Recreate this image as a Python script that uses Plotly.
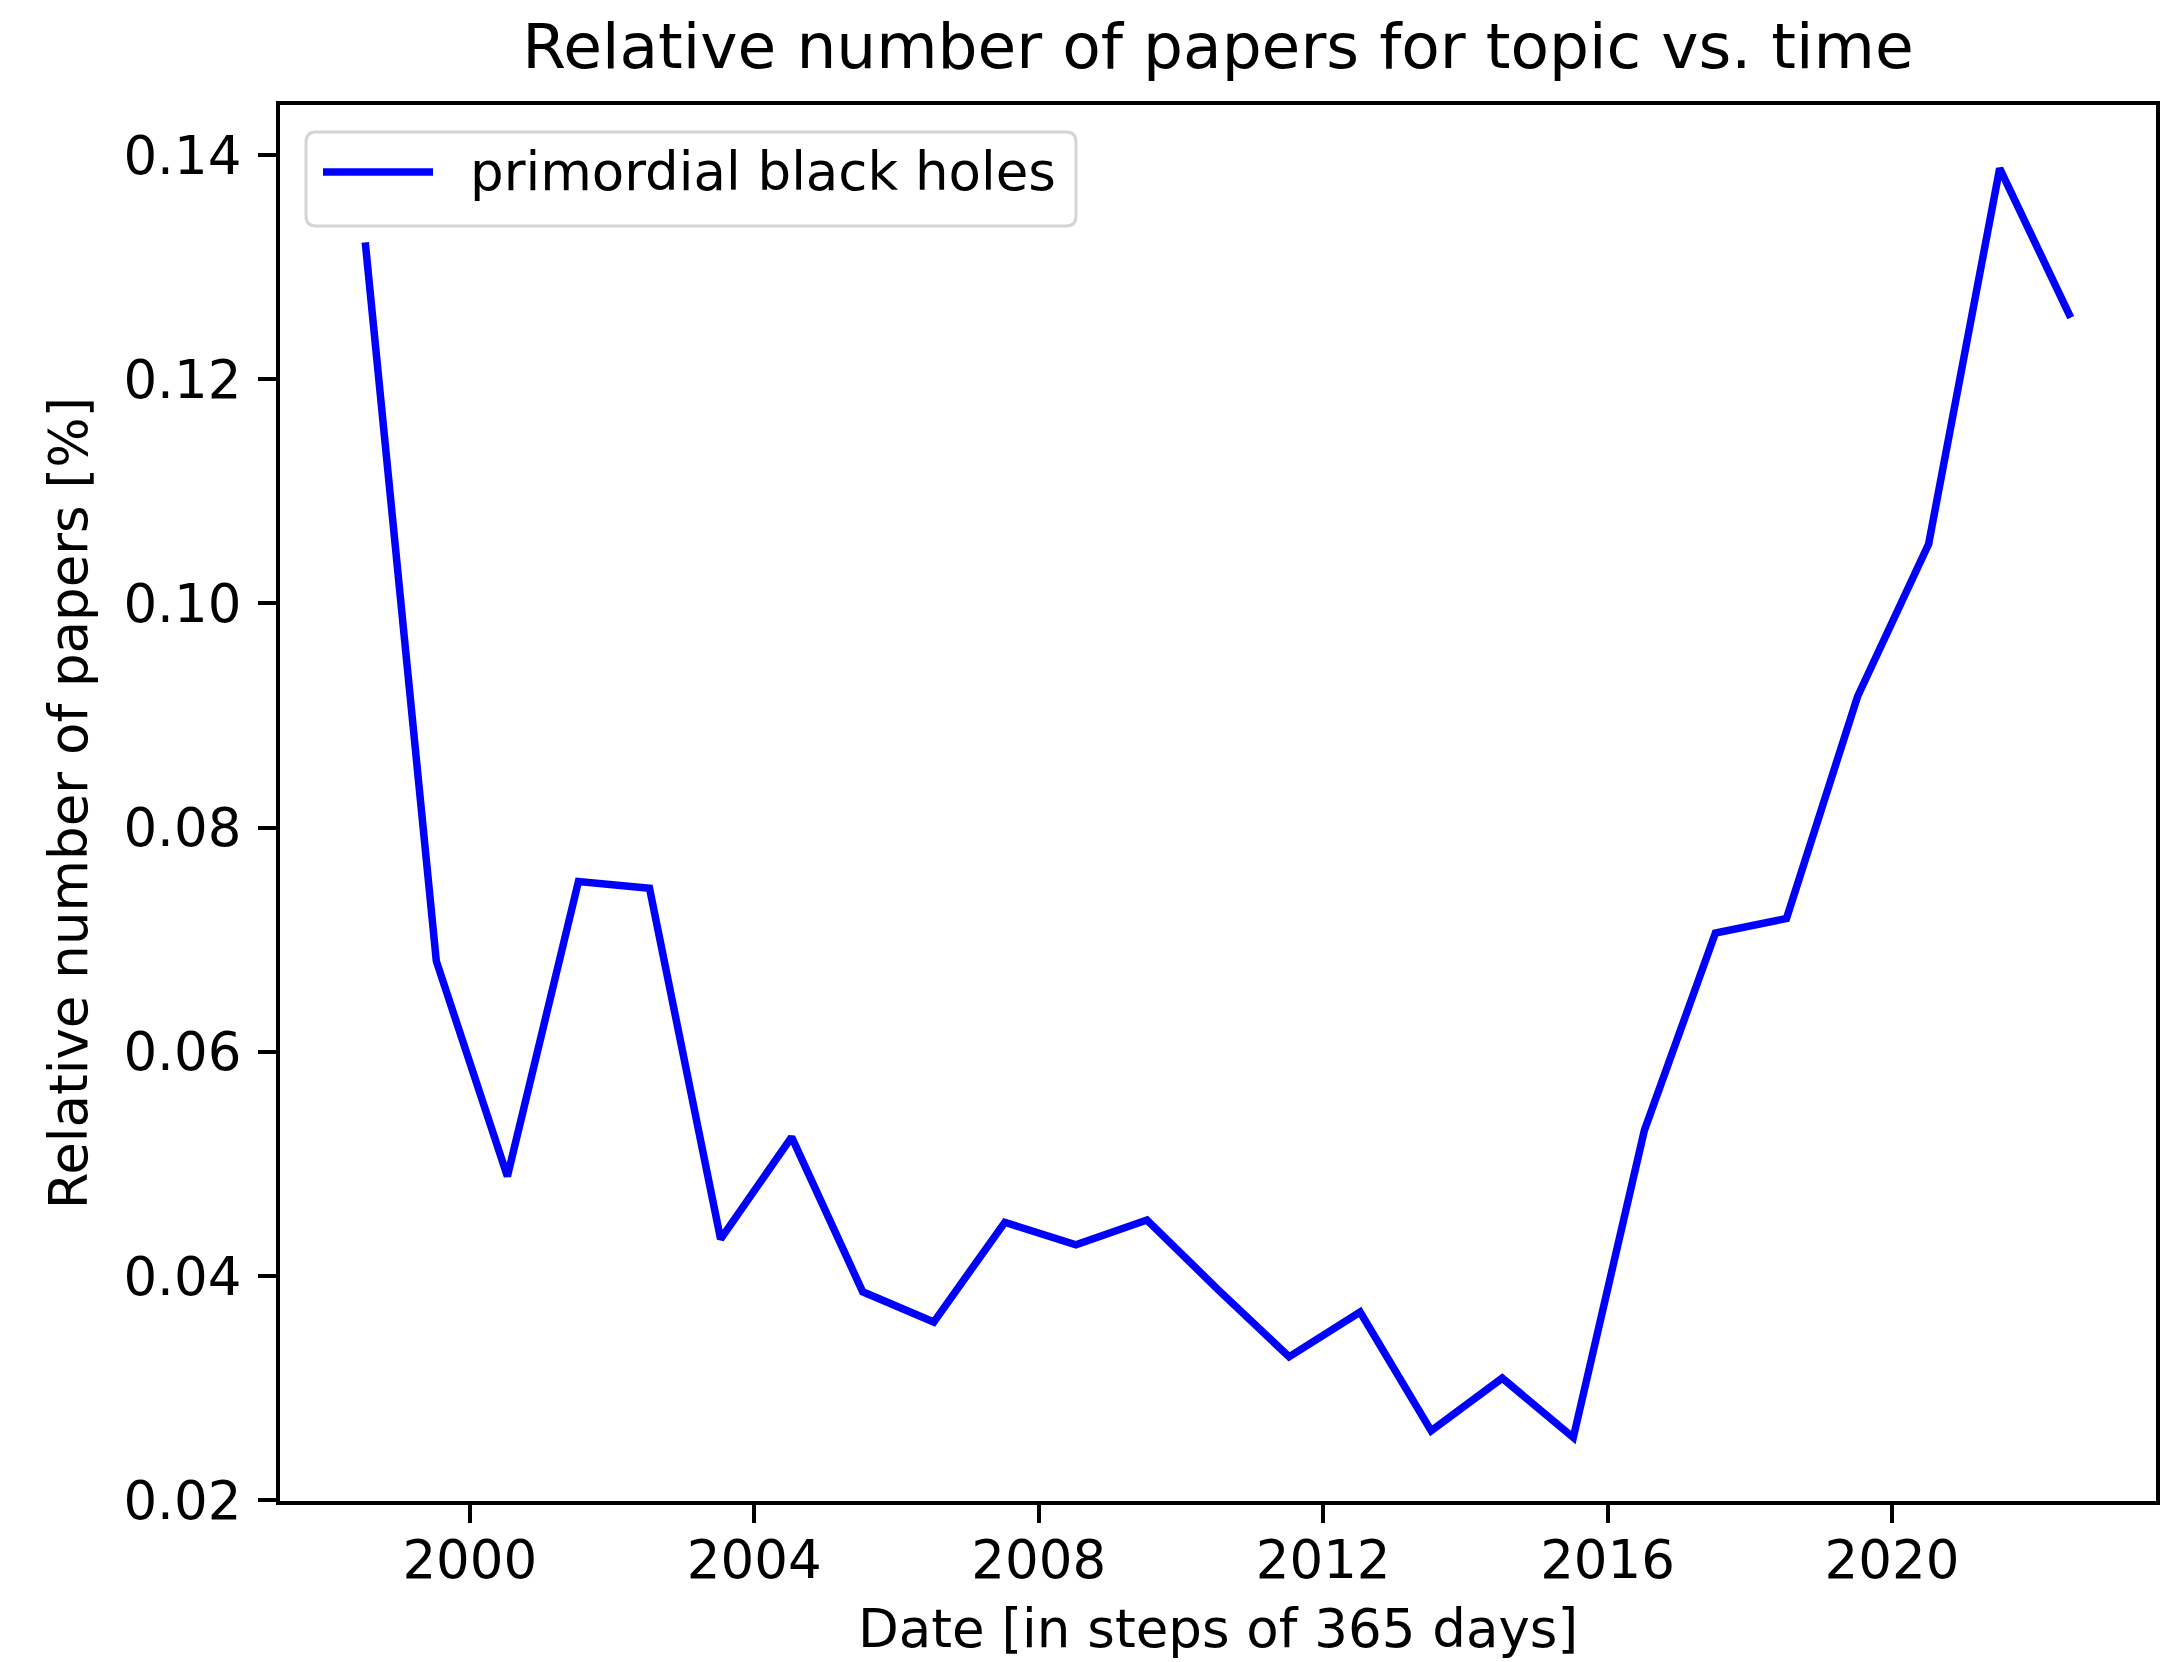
import pandas as pd
import plotly.graph_objects as go

# Yearly samples (365-day steps) and the relative share of papers on the topic
dates = [
    "1998-07-13", "1999-07-13", "2000-07-12", "2001-07-12", "2002-07-12",
    "2003-07-12", "2004-07-11", "2005-07-11", "2006-07-11", "2007-07-11",
    "2008-07-10", "2009-07-10", "2010-07-10", "2011-07-10", "2012-07-09",
    "2013-07-09", "2014-07-09", "2015-07-09", "2016-07-08", "2017-07-08",
    "2018-07-08", "2019-07-08", "2020-07-07", "2021-07-07", "2022-07-07",
]
rel_papers = [
    0.1322, 0.0681, 0.0489, 0.0752, 0.0746,
    0.0433, 0.0524, 0.0386, 0.0359, 0.0448,
    0.0428, 0.0450, 0.0388, 0.0328, 0.0368,
    0.0262, 0.0309, 0.0256, 0.0530, 0.0706,
    0.0719, 0.0917, 0.1053, 0.1388, 0.1255,
]
series_name = "primordial black holes"
title_text = "Relative number of papers for topic vs. time"
x_label = "Date [in steps of 365 days]"
y_label = "Relative number of papers [%]"

LINE_COLOR = "#0000ff"
FONT = "DejaVu Sans"
FS = 53          # tick / label / legend text size
FS_TITLE = 63

W, H = 2182, 1662
L, R, T, B = 280, 26, 105, 161
plot_w = W - L - R
plot_h = H - T - B


def fx(px):
    return (px - L) / plot_w


def fy(py):
    return (H - B - py) / plot_h


# autoscale with 5% padding on both axes
d = pd.to_datetime(dates)
span = d.max() - d.min()
x_range = [d.min() - 0.05 * span, d.max() + 0.05 * span]
ys = max(rel_papers) - min(rel_papers)
y_range = [min(rel_papers) - 0.05 * ys, max(rel_papers) + 0.05 * ys]

fig = go.Figure()
fig.add_trace(go.Scatter(
    x=d, y=rel_papers, mode="lines", name=series_name,
    line=dict(color=LINE_COLOR, width=7.5),
    showlegend=False,
))

axis_common = dict(
    showline=True, mirror=True, linecolor="black", linewidth=4,
    ticks="outside", ticklen=18, tickwidth=4, tickcolor="black",
    showgrid=False, zeroline=False,
    tickfont=dict(family=FONT, size=FS, color="black"),
)

fig.update_xaxes(
    range=x_range, tick0="2000-01-01", dtick="M48", tickformat="%Y",
    ticklabelstandoff=-9,
    title=dict(text=x_label, font=dict(family=FONT, size=FS, color="black"), standoff=22),
    **axis_common,
)
fig.update_yaxes(
    range=y_range, tick0=0.02, dtick=0.02, tickformat=".2f",
    ticklabelstandoff=6,
    title=dict(text=y_label, font=dict(family=FONT, size=FS, color="black"), standoff=20),
    **axis_common,
)

# Legend box drawn as a rounded frame with a line sample and label
x0, x1, y0, y1, r = 306, 1076, 132, 226, 10
rx, ry = r / plot_w, r / plot_h
X0, X1, Y0, Y1 = fx(x0), fx(x1), fy(y0), fy(y1)
path = (
    f"M {X0+rx},{Y0} L {X1-rx},{Y0} Q {X1},{Y0} {X1},{Y0-ry} "
    f"L {X1},{Y1+ry} Q {X1},{Y1} {X1-rx},{Y1} "
    f"L {X0+rx},{Y1} Q {X0},{Y1} {X0},{Y1+ry} "
    f"L {X0},{Y0-ry} Q {X0},{Y0} {X0+rx},{Y0} Z"
)
fig.add_shape(type="path", path=path, xref="paper", yref="paper",
              line=dict(color="#d4d4d4", width=3), fillcolor="white", layer="above")
fig.add_shape(type="line", xref="paper", yref="paper",
              x0=fx(323), x1=fx(433), y0=fy(172), y1=fy(172),
              line=dict(color=LINE_COLOR, width=7.5), layer="above")
fig.add_annotation(text=series_name, xref="paper", yref="paper",
                   x=fx(468), y=fy(172), xanchor="left", yanchor="middle",
                   showarrow=False, font=dict(family=FONT, size=FS, color="black"))

fig.update_layout(
    width=W, height=H,
    margin=dict(l=L, r=R, t=T, b=B, autoexpand=False),
    paper_bgcolor="white", plot_bgcolor="white",
    font=dict(family=FONT, color="black"),
    title=dict(text=title_text, x=0.5, xref="paper", xanchor="center",
               y=1 - 46 / H, yref="container", yanchor="middle",
               font=dict(family=FONT, size=FS_TITLE, color="black")),
)

fig.write_html("out.html")
